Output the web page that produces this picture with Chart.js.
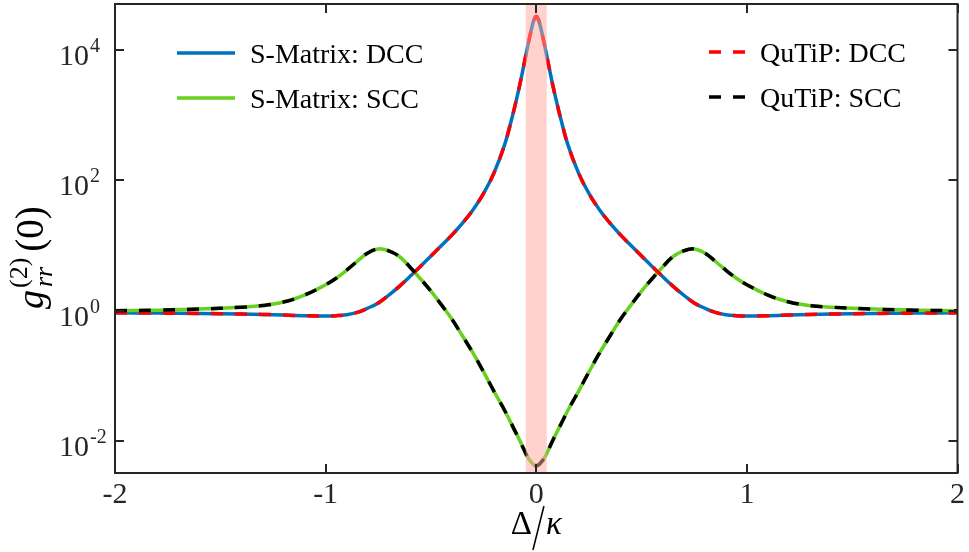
<!DOCTYPE html>
<html>
<head>
<meta charset="utf-8">
<script src="https://cdn.jsdelivr.net/npm/chart.js@4.4.1/dist/chart.umd.min.js"></script>
<style>
  html, body { margin: 0; padding: 0; background: #fff; }
  #wrap { width: 969px; height: 552px; }
</style>
</head>
<body>
<div id="wrap"><canvas id="c" width="969" height="552"></canvas></div>
<script>
// detuning Delta/kappa
var deltaK = [-2, -1.8, -1.6, -1.4, -1.3, -1.2, -1.1, -1.0, -0.95, -0.9, -0.85, -0.8, -0.75, -0.7, -0.65, -0.6,
  -0.55, -0.5, -0.45, -0.4, -0.35, -0.3, -0.25, -0.2, -0.15, -0.12, -0.1, -0.08, -0.06, -0.04, -0.02, -0.01,
  0,
  0.01, 0.02, 0.04, 0.06, 0.08, 0.1, 0.12, 0.15, 0.2, 0.25, 0.3, 0.35, 0.4, 0.45, 0.5, 0.55,
  0.6, 0.65, 0.7, 0.75, 0.8, 0.85, 0.9, 0.95, 1.0, 1.1, 1.2, 1.3, 1.4, 1.6, 1.8, 2];

// g2(0)
var smatrixDCC = [0.93, 0.92, 0.91, 0.89, 0.88, 0.86, 0.84, 0.83, 0.84, 0.87, 0.944, 1.096, 1.32, 1.74, 2.37, 3.35,
  4.79, 6.92, 10.0, 14.6, 22.1, 35.5, 63.1, 132, 355, 794, 1445, 2754, 5623, 11750, 22900, 29500,
  33100,
  29500, 22900, 11750, 5623, 2754, 1445, 794, 355, 132, 63.1, 35.5, 22.1, 14.6, 10.0, 6.92, 4.79,
  3.35, 2.37, 1.74, 1.32, 1.096, 0.944, 0.87, 0.84, 0.83, 0.84, 0.86, 0.88, 0.89, 0.91, 0.92, 0.93];

var smatrixSCC = [1.0, 1.02, 1.06, 1.135, 1.2, 1.36, 1.74, 2.51, 3.16, 4.2, 5.75, 7.7, 8.9, 8.3, 6.8, 4.7,
  3.1, 2.0, 1.23, 0.74, 0.41, 0.224, 0.115, 0.0575, 0.0295, 0.019, 0.0141, 0.0105, 0.0076, 0.0056, 0.0046, 0.0043,
  0.0042,
  0.0043, 0.0046, 0.0056, 0.0076, 0.0105, 0.0141, 0.019, 0.0295, 0.0575, 0.115, 0.224, 0.41, 0.74, 1.23, 2.0, 3.1,
  4.7, 6.8, 8.3, 8.9, 7.7, 5.75, 4.2, 3.16, 2.51, 1.74, 1.36, 1.2, 1.135, 1.06, 1.02, 1.0];

// QuTiP results coincide with the S-matrix ones
var qutipDCC = smatrixDCC;
var qutipSCC = smatrixSCC;

var xTicks = [-2, -1, 0, 1, 2];
var yTicks = [1e-2, 1, 1e2, 1e4];
var yTickExp = ['-2', '0', '2', '4'];
var band = [-0.05, 0.05];

var serif = "'Liberation Serif', 'Times New Roman', serif";
var axisColor = '#262626';

function pts(ys) {
    return deltaK.map(function (x, i) { return {x: x, y: ys[i]}; });
}

// shaded band, box, inward ticks, y labels, titles, legend
var decor = {
    id: 'decor',
    afterDatasetsDraw: function (chart) {
        var ctx = chart.ctx, a = chart.chartArea;
        var xs = chart.scales.x, ys = chart.scales.y;
        ctx.save();
        var l = xs.getPixelForValue(band[0]), r = xs.getPixelForValue(band[1]);
        ctx.fillStyle = 'rgba(255,165,155,0.5)';
        ctx.fillRect(l, a.top, r - l, a.bottom - a.top);

        ctx.strokeStyle = axisColor;
        ctx.lineWidth = 2;
        ctx.strokeRect(a.left, a.top, a.right - a.left, a.bottom - a.top);
        ctx.beginPath();
        xTicks.forEach(function (v) {
            var p = Math.round(xs.getPixelForValue(v));
            ctx.moveTo(p, a.bottom); ctx.lineTo(p, a.bottom - 9);
            ctx.moveTo(p, a.top); ctx.lineTo(p, a.top + 9);
        });
        yTicks.forEach(function (v) {
            var p = Math.round(ys.getPixelForValue(v));
            ctx.moveTo(a.left, p); ctx.lineTo(a.left + 9, p);
            ctx.moveTo(a.right, p); ctx.lineTo(a.right - 9, p);
        });
        ctx.stroke();

        // y tick labels 10^n
        ctx.fillStyle = axisColor;
        ctx.textBaseline = 'alphabetic';
        ctx.textAlign = 'left';
        yTicks.forEach(function (v, i) {
            var p = ys.getPixelForValue(v);
            ctx.font = '30px ' + serif;
            ctx.fillText('10', 59, p + 15);
            var w = ctx.measureText('10').width;
            ctx.font = '20px ' + serif;
            ctx.fillText(yTickExp[i], 59 + w + 1, p + 2);
        });

        // x title
        ctx.fillStyle = '#000';
        var cx = (a.left + a.right) / 2;
        ctx.font = '33px ' + serif;
        var wD = ctx.measureText('\u0394').width;
        ctx.font = 'italic 33px ' + serif;
        var wK = ctx.measureText('\u03ba').width;
        var x0 = cx - (wD + 14 + wK) / 2;
        ctx.font = '33px ' + serif;
        ctx.fillText('\u0394', x0, 534);
        ctx.beginPath();
        ctx.lineWidth = 1.6;
        ctx.strokeStyle = '#000';
        ctx.moveTo(x0 + wD + 12, 506);
        ctx.lineTo(x0 + wD + 1, 550);
        ctx.stroke();
        ctx.font = 'italic 33px ' + serif;
        ctx.fillText('\u03ba', x0 + wD + 14, 534);

        // y title g_rr^(2)(0)
        ctx.save();
        ctx.translate(43, 309);
        ctx.rotate(-Math.PI / 2);
        var t = 0;
        ctx.font = 'italic 38px ' + serif;
        ctx.fillText('g', t, 0);
        t += ctx.measureText('g').width + 2;
        ctx.font = 'italic 26px ' + serif;
        ctx.fillText('rr', t + 1, 9);
        var wSub = ctx.measureText('rr').width + 1;
        ctx.font = '26px ' + serif;
        ctx.fillText('(2)', t, -16);
        t += Math.max(wSub, ctx.measureText('(2)').width) + 6;
        ctx.font = '39px ' + serif;
        ctx.fillText('(0)', t, 0);
        ctx.restore();

        // legend, two columns
        var items = chart.options.plugins.decor.items;
        items.forEach(function (it) {
            var ds = chart.data.datasets[it.index];
            ctx.beginPath();
            ctx.strokeStyle = ds.borderColor;
            ctx.lineWidth = 3.5;
            ctx.setLineDash(ds.borderDash || []);
            ctx.moveTo(it.x, it.y);
            ctx.lineTo(it.x + it.len, it.y);
            ctx.stroke();
            ctx.setLineDash([]);
            ctx.fillStyle = '#000';
            ctx.font = '28px ' + serif;
            ctx.fillText(ds.label, it.x + it.len + 15, it.y + 10);
        });
        ctx.restore();
    }
};

new Chart(document.getElementById('c').getContext('2d'), {
    type: 'line',
    data: {
        datasets: [
            {label: 'S-Matrix: DCC', data: pts(smatrixDCC), borderColor: '#0072BD', borderWidth: 3.5, order: 4},
            {label: 'S-Matrix: SCC', data: pts(smatrixSCC), borderColor: '#66D11E', borderWidth: 3.5, order: 3},
            {label: 'QuTiP: DCC', data: pts(qutipDCC), borderColor: '#FF0000', borderWidth: 3.5, borderDash: [12, 12], order: 2},
            {label: 'QuTiP: SCC', data: pts(qutipSCC), borderColor: '#000000', borderWidth: 3.5, borderDash: [12, 12], order: 1}
        ]
    },
    options: {
        responsive: false,
        animation: false,
        events: [],
        layout: {padding: {left: 0, right: 9, top: 4, bottom: 0}},
        elements: {
            point: {radius: 0},
            line: {tension: 0.4, fill: false}
        },
        scales: {
            x: {
                type: 'linear',
                min: -2,
                max: 2,
                grid: {display: false, drawTicks: false},
                border: {display: false},
                ticks: {
                    stepSize: 1,
                    padding: 4,
                    color: axisColor,
                    font: {family: serif, size: 30}
                },
                afterFit: function (s) { s.height = 79; }
            },
            y: {
                type: 'logarithmic',
                min: Math.pow(10, -2.49),
                max: Math.pow(10, 4.708),
                grid: {display: false},
                border: {display: false},
                ticks: {display: false},
                afterFit: function (s) { s.width = 115; }
            }
        },
        plugins: {
            legend: {display: false},
            tooltip: {enabled: false},
            decor: {
                items: [
                    {index: 0, x: 177, y: 53, len: 58},
                    {index: 1, x: 177, y: 98, len: 58},
                    {index: 2, x: 709, y: 52, len: 36},
                    {index: 3, x: 709, y: 97, len: 36}
                ]
            }
        }
    },
    plugins: [decor]
});
</script>
</body>
</html>
